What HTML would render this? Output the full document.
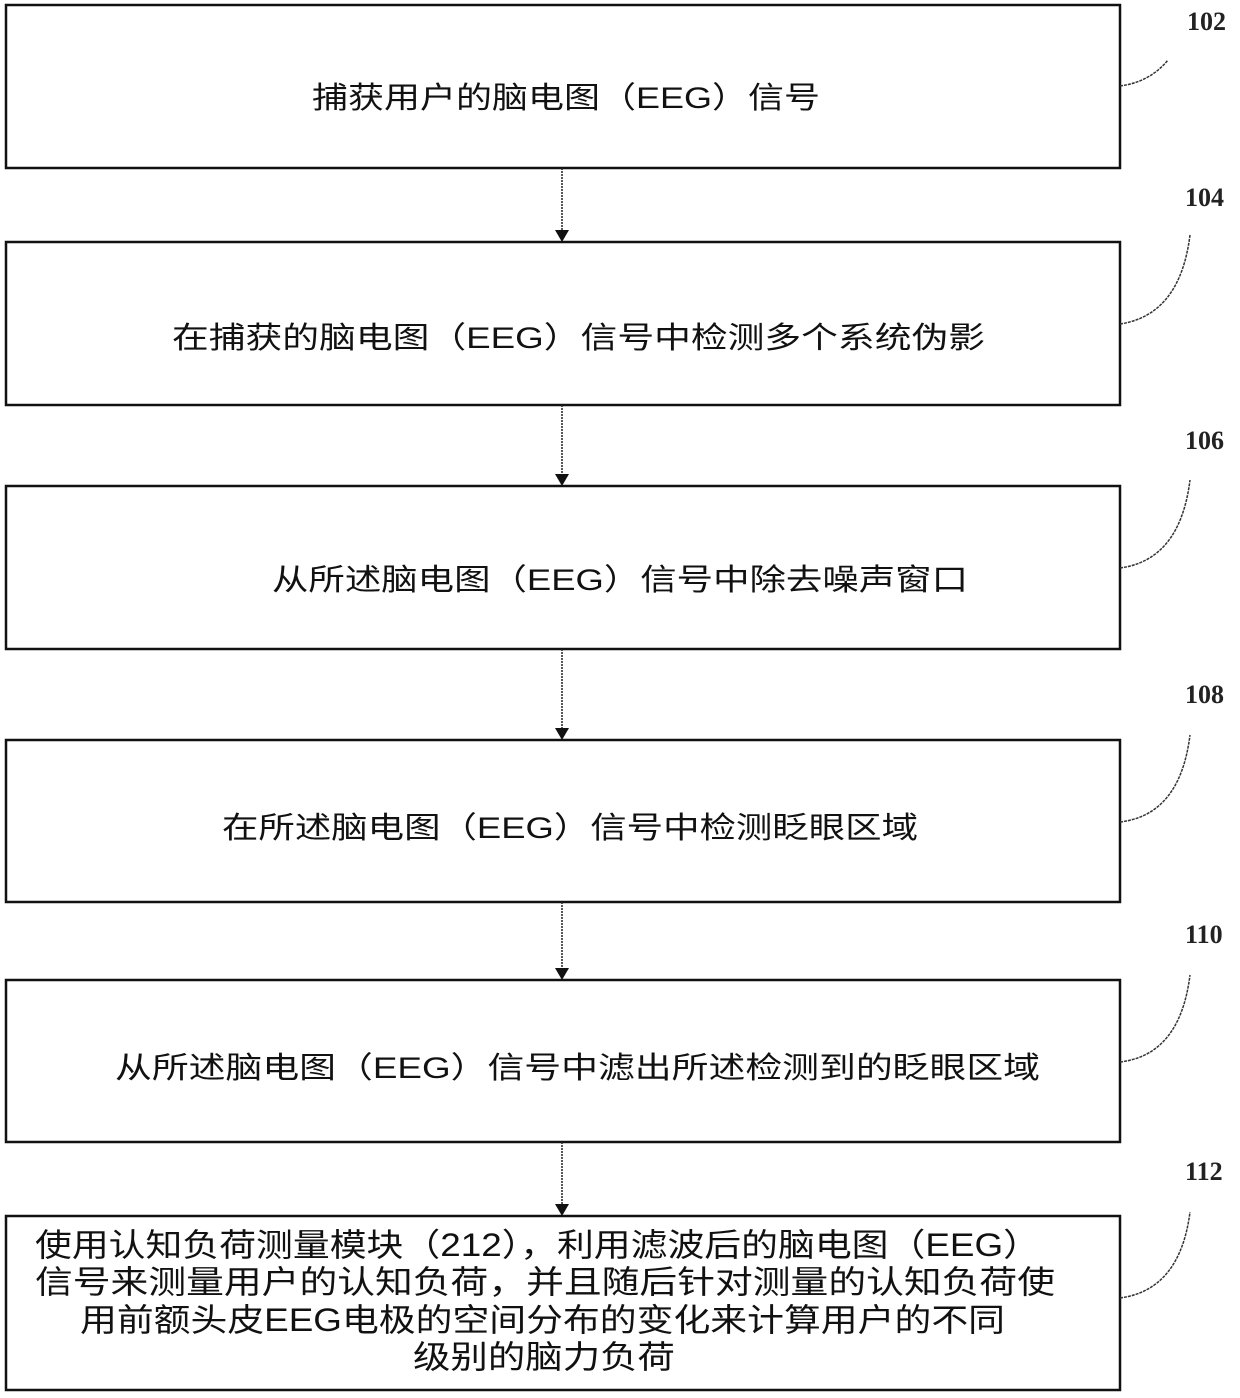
<!DOCTYPE html>
<html><head><meta charset="utf-8"><style>body{margin:0;background:#fff}</style></head><body>
<svg width="1240" height="1393" viewBox="0 0 1240 1393" xmlns="http://www.w3.org/2000/svg" font-family="'Liberation Sans','Noto Sans CJK SC',sans-serif">
<g fill="none" stroke="#111" stroke-width="2.5">
<rect x="6" y="5" width="1114" height="163"/>
<rect x="6" y="242" width="1114" height="163"/>
<rect x="6" y="486" width="1114" height="163"/>
<rect x="6" y="740" width="1114" height="162"/>
<rect x="6" y="980" width="1114" height="162"/>
<rect x="6" y="1216" width="1114" height="174"/>
</g>
<g stroke="#222" stroke-width="1.5" stroke-dasharray="2 1">
<line x1="562" y1="168" x2="562" y2="236"/>
<line x1="562" y1="405" x2="562" y2="480"/>
<line x1="562" y1="649" x2="562" y2="734"/>
<line x1="562" y1="902" x2="562" y2="974"/>
<line x1="562" y1="1142" x2="562" y2="1210"/>
</g>
<g fill="#111">
<path d="M555 230 L569 230 L562 242 Z"/>
<path d="M555 474 L569 474 L562 486 Z"/>
<path d="M555 728 L569 728 L562 740 Z"/>
<path d="M555 968 L569 968 L562 980 Z"/>
<path d="M555 1204 L569 1204 L562 1216 Z"/>
</g>
<g fill="none" stroke="#333" stroke-width="1.5" stroke-dasharray="3 1">
<path d="M1120 86 Q1150 82 1168 60"/>
<path d="M1120 324 Q1180 315 1190 235"/>
<path d="M1120 568 Q1180 560 1190 480"/>
<path d="M1120 822 Q1180 815 1190 735"/>
<path d="M1120 1062 Q1180 1055 1190 975"/>
<path d="M1120 1298 Q1180 1290 1190 1212"/>
</g>
<g font-family="'Liberation Serif',serif" font-weight="bold" font-size="26" fill="#222">
<text x="1187" y="30">102</text>
<text x="1185" y="206">104</text>
<text x="1185" y="449">106</text>
<text x="1185" y="703">108</text>
<text x="1185" y="943">110</text>
<text x="1185" y="1180">112</text>
</g>
<g font-size="30" fill="#111">
<text x="312" y="108" textLength="508" lengthAdjust="spacingAndGlyphs">捕获用户的脑电图（EEG）信号</text>
<text x="172" y="348" textLength="813" lengthAdjust="spacingAndGlyphs">在捕获的脑电图（EEG）信号中检测多个系统伪影</text>
<text x="272" y="590" textLength="696" lengthAdjust="spacingAndGlyphs">从所述脑电图（EEG）信号中除去噪声窗口</text>
<text x="222" y="838" textLength="696" lengthAdjust="spacingAndGlyphs">在所述脑电图（EEG）信号中检测眨眼区域</text>
<text x="115" y="1078" textLength="925" lengthAdjust="spacingAndGlyphs">从所述脑电图（EEG）信号中滤出所述检测到的眨眼区域</text>
</g>
<g font-size="32" fill="#111">
<text x="35" y="1256" textLength="1005" lengthAdjust="spacingAndGlyphs">使用认知负荷测量模块（212），利用滤波后的脑电图（EEG）</text>
<text x="35" y="1293" textLength="1020" lengthAdjust="spacingAndGlyphs">信号来测量用户的认知负荷，并且随后针对测量的认知负荷使</text>
<text x="80" y="1331" textLength="925" lengthAdjust="spacingAndGlyphs">用前额头皮EEG电极的空间分布的变化来计算用户的不同</text>
<text x="413" y="1368" textLength="262" lengthAdjust="spacingAndGlyphs">级别的脑力负荷</text>
</g>
</svg>
</body></html>
